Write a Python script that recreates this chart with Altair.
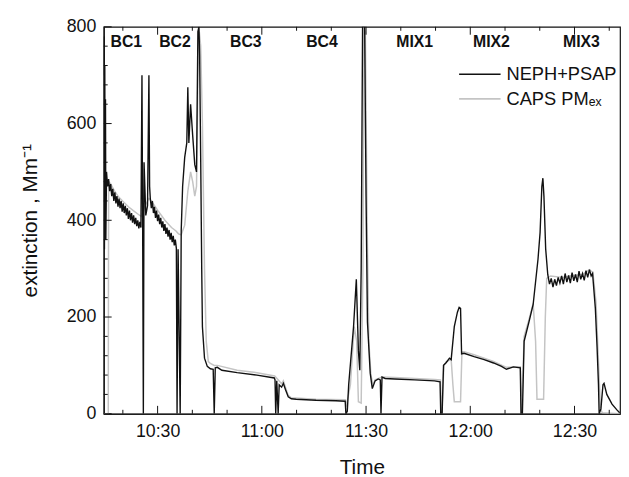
import altair as alt
import pandas as pd

# time in minutes after 10:00, extinction in Mm^-1
neph_t = [14.5, 14.6, 14.7, 14.8, 14.9, 15.0, 15.1,
          15.3, 15.6, 15.9, 16.2, 16.5, 16.8, 17.1, 17.4, 17.7, 18.0, 18.3, 18.6, 18.9, 19.2, 19.5,
          19.8, 20.1, 20.4, 20.7, 21.0, 21.3, 21.6, 21.9, 22.2, 22.5, 22.8, 23.1, 23.4, 23.7, 24.0,
          24.3, 24.6, 24.9, 25.2,
          25.5, 25.7, 25.9, 26.1, 26.6, 27.1, 27.5, 27.7,
          27.9, 28.2, 28.5, 28.8, 29.1, 29.4, 29.7, 30.0, 30.3, 30.6, 30.9, 31.2, 31.5, 31.8, 32.1,
          32.4, 32.7, 33.0, 33.3, 33.6, 33.9, 34.2, 34.5, 34.8, 35.1, 35.4,
          35.6, 35.9, 36.5, 36.8,
          37.2, 37.8, 38.4, 38.7, 39.0, 39.5, 40.1, 40.7, 41.2, 41.6, 41.9, 42.1, 42.4, 42.7, 42.9,
          43.5, 44.3, 45.2, 46.0, 46.3, 46.6, 47.2, 48.5, 52.9, 58.6, 63.6, 63.8, 64.0, 64.3, 64.7,
          65.0, 65.7, 66.2, 66.8, 67.6, 68.5, 69.9, 75.6, 81.3, 84.0, 84.2, 84.6, 85.0, 86.4, 87.2,
          87.8, 88.2, 88.6, 89.0, 89.6, 90.0, 90.4, 91.2, 91.8, 92.6, 93.5, 94.1, 94.3, 94.6, 95.5,
          98.3, 104.0, 109.7, 111.3, 111.5, 111.9, 112.3, 113.1, 114.0, 114.5, 115.4, 116.3, 116.8, 117.2,
          117.5, 118.2, 121.1, 124.0, 126.7, 129.0, 130.4, 132.4, 134.4, 134.6, 135.0, 135.5, 136.9, 138.1,
          139.5, 140.1, 140.6, 140.9, 141.2, 141.7,
          142.3, 142.8, 143.3, 143.8, 144.3, 144.8, 145.3, 145.8, 146.3, 146.8, 147.3, 147.8, 148.3,
          148.8, 149.3, 149.8, 150.3, 150.8, 151.3, 151.8, 152.3, 152.8, 153.3, 153.8, 154.3, 154.8, 155.2,
          156.0, 156.5, 156.9, 157.1, 157.6, 158.2, 158.5, 159.3, 160.8, 162.2, 163.0]
neph_v = [700, 780, 340, 720, 380, 650, 360,
          500, 470, 485, 460, 475, 450, 465, 440, 458, 435, 450, 428, 445, 425, 440,
          418, 435, 415, 430, 410, 425, 403, 420, 400, 415, 395, 410, 392, 405, 388,
          400, 383, 397, 385,
          700, 380, 0, 520, 410, 430, 700, 470,
          445, 425, 440, 415, 428, 405, 420, 398, 412, 392, 405, 385, 398, 378, 392,
          372, 385, 366, 380, 360, 374, 355, 368, 348, 360, 342,
          0, 340, 0, 380,
          470, 530, 560, 675, 560, 640, 575, 515, 500, 790, 800, 740, 530, 300, 180,
          115, 98, 93, 92, 0, 95, 96, 90, 85, 80, 74, 70, 0, 68, 0,
          60, 55, 63, 50, 35, 31, 30, 28, 27, 26, 0, 5, 60, 180, 278,
          130, 90, 300, 800, 800, 450, 190, 84, 52, 68, 72, 70, 0, 76, 73,
          72, 70, 68, 66, 0, 0, 100, 106, 115, 112, 180, 210, 220, 218,
          124, 125, 118, 112, 105, 98, 92, 97, 95, 0, 0, 150, 190, 226,
          320, 375, 470, 487, 450, 341,
          288, 268, 280, 262, 278, 265, 282, 270, 285, 268, 290, 272, 286,
          270, 292, 275, 288, 272, 295, 278, 290, 276, 296, 282, 298, 285, 290,
          218, 137, 60, 0, 10, 60, 63, 40, 20, 8, 2]

caps_t = [14.5, 15.8, 15.9, 16.5, 17.5, 18.8, 20.2, 21.6, 23.0, 24.5, 25.3, 26.4, 27.5, 28.2, 30.1,
          32.1, 34.0, 35.3, 36.0, 36.8, 37.8, 38.7, 39.5, 40.1, 40.7, 41.2, 41.6, 42.0, 42.4, 42.9,
          43.5, 44.0, 44.6, 45.2, 46.3, 47.2, 52.9, 58.6, 63.7, 64.5, 65.7, 66.2, 66.8, 67.6, 68.5,
          75.6, 84.0, 84.3, 85.5, 86.6, 87.3, 87.8, 88.6, 89.1, 89.4, 89.8, 90.3, 90.8, 91.4, 92.0,
          92.6, 94.6, 98.3, 104.0, 109.7, 111.4, 111.8, 112.4, 113.1, 114.5, 115.0, 115.4, 117.2, 117.6,
          118.2, 121.1, 126.7, 130.4, 134.4, 134.8, 135.5, 136.9, 138.1, 138.8, 139.2, 141.1, 141.6, 142.0,
          143.1, 146.6, 149.4, 152.3, 154.3, 155.3, 156.2, 157.0, 157.5, 158.0, 163.0]
caps_v = [0, 0, 480, 475, 462, 448, 438, 428, 420, 412, 408, 430, 445, 440, 420,
          400, 385, 378, 372, 370, 390, 460, 500, 480, 450, 470, 700, 790, 760, 600,
          300, 150, 108, 104, 100, 100, 90, 85, 78, 72, 62, 68, 55, 38, 33,
          30, 29, 15, 60, 180, 150, 25, 22, 300, 800, 790, 400, 150, 80, 60,
          70, 76, 75, 73, 71, 70, 0, 100, 108, 112, 60, 25, 25, 128,
          128, 122, 108, 96, 97, 0, 160, 195, 228, 150, 30, 30, 200, 280,
          285, 282, 286, 288, 298, 292, 230, 90, 10, 2, 0]

labels = ["BC1", "BC2", "BC3", "BC4", "MIX1", "MIX2", "MIX3"]
label_t = [21.0, 35.0, 55.4, 77.3, 104.0, 126.1, 152.0]
label_v = [768] * 7

x_major = [30, 60, 90, 120, 150]
x_minor = [20, 40, 50, 70, 80, 100, 110, 130, 140, 160]
y_major = [0, 200, 400, 600, 800]
y_minor = [40, 80, 120, 160, 240, 280, 320, 360, 440, 480, 520, 560, 640, 680, 720, 760]

series = ["NEPH+PSAP", "CAPS PM\u2091\u2093"]
colors = ["#111111", "#c4c4c4"]

df = pd.concat([
    pd.DataFrame({"t": neph_t, "v": neph_v, "s": series[0], "o": range(len(neph_t))}),
    pd.DataFrame({"t": caps_t, "v": caps_v, "s": series[1], "o": range(len(caps_t))}),
])
lab = pd.DataFrame({"t": label_t, "v": label_v, "txt": labels})

FONT = "Liberation Sans"
W, H = 523, 392

x = alt.X("t:Q", title="Time",
          scale=alt.Scale(domain=[14.5, 163.1], nice=False, zero=False),
          axis=alt.Axis(values=x_major, labelOverlap=False,
                        labelExpr="(10 + floor(datum.value/60)) + ':' + (datum.value % 60 == 0 ? '00' : '30')",
                        grid=False, ticks=False, labelPadding=9, titlePadding=17))
y = alt.Y("v:Q", title="extinction , Mm\u207b\u00b9",
          scale=alt.Scale(domain=[0, 800], nice=False),
          axis=alt.Axis(values=y_major, grid=False, ticks=False,
                        labelPadding=8, titlePadding=26))
color = alt.Color("s:N", scale=alt.Scale(domain=series, range=colors), legend=None)

gray = alt.Chart(df).transform_filter(alt.datum.s == series[1]).mark_line(
    strokeWidth=1.5, clip=True).encode(x=x, y=y, color=color, order="o:Q")
black = alt.Chart(df).transform_filter(alt.datum.s == series[0]).mark_line(
    strokeWidth=1.4, clip=True).encode(x=x, y=y, color=color, order="o:Q")
text = alt.Chart(lab).mark_text(fontWeight="bold", fontSize=16, font=FONT, color="#111").encode(
    x=x, y=y, text="txt:N")

# legend drawn as rule + label pairs
legend_layers = []
for i, (name, col) in enumerate(zip(series, colors)):
    d = pd.DataFrame({"s": [name]})
    ly = 48 + 25 * i
    legend_layers.append(alt.Chart(d).mark_rule(color=col, strokeWidth=1.6).encode(
        x=alt.value(360), x2=alt.value(402), y=alt.value(ly)))
    legend_layers.append(alt.Chart(d).mark_text(
        align="left", baseline="middle", font=FONT, fontSize=18.5, color="#111").encode(
        x=alt.value(408), y=alt.value(ly), text="s:N"))

# inward tick marks (Origin style), bottom/top and left
def xticks(vals, length):
    d = pd.DataFrame({"t": vals})
    b = alt.Chart(d).mark_rule(color="#111", strokeWidth=1).encode(
        x=x, y=alt.value(H), y2=alt.value(H - length))
    t = alt.Chart(d).mark_rule(color="#111", strokeWidth=1).encode(
        x=x, y=alt.value(0), y2=alt.value(length))
    return [b, t]

def yticks(vals, length):
    d = pd.DataFrame({"v": vals})
    return [alt.Chart(d).mark_rule(color="#111", strokeWidth=1).encode(
        y=y, x=alt.value(0), x2=alt.value(length))]

tick_layers = xticks(x_major, 8) + xticks(x_minor, 4) + yticks(y_major, 8) + yticks(y_minor, 4)

chart = alt.layer(gray, black, text, *legend_layers, *tick_layers).properties(
    width=W, height=H,
    background="white",
    autosize=alt.AutoSizeParams(type="none"),
    padding={"left": 97, "top": 16, "right": 1, "bottom": 61},
).configure_view(stroke="#111", strokeWidth=1.2).configure_axis(
    labelFont=FONT, titleFont=FONT, labelFontSize=18, titleFontSize=21,
    titleFontWeight="normal", labelColor="#111", titleColor="#111",
    domainColor="#111", domainWidth=1.2
)

chart.save("out.html", embed_options={"renderer": "svg", "actions": False})
